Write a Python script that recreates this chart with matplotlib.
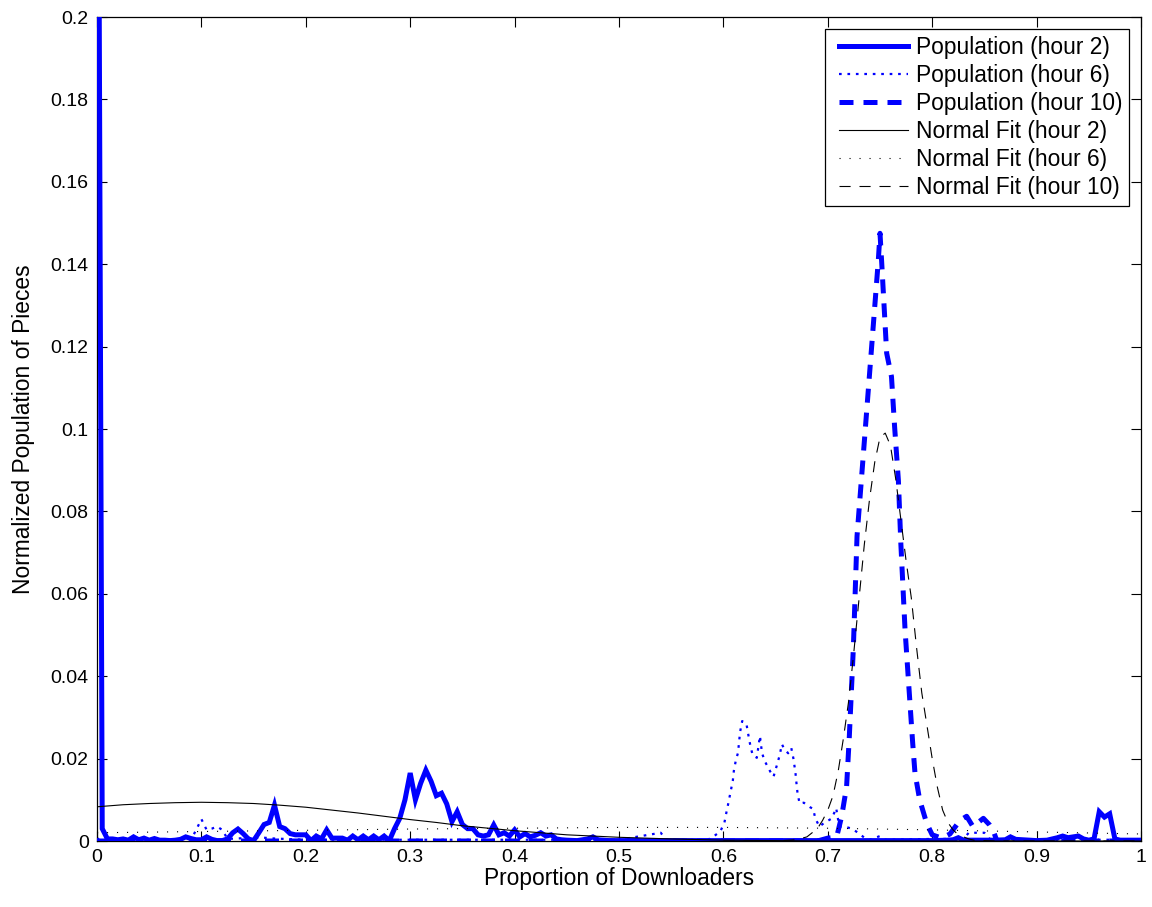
import numpy as np
import matplotlib
matplotlib.use("Agg")
import matplotlib.pyplot as plt
from matplotlib.legend_handler import HandlerLine2D

plt.rcParams['font.family'] = ['Liberation Sans', 'DejaVu Sans']

# ---------------- data ----------------
h2_x = [0.000, 0.005, 0.010, 0.015, 0.020, 0.025, 0.030, 0.035, 0.040, 0.045,
        0.050, 0.055, 0.060, 0.065, 0.070, 0.075, 0.080, 0.085, 0.090, 0.095,
        0.100, 0.105, 0.110, 0.115, 0.120, 0.125, 0.130, 0.135, 0.140, 0.145,
        0.150, 0.155, 0.160, 0.165, 0.170, 0.175, 0.180, 0.185, 0.190, 0.195,
        0.200, 0.205, 0.210, 0.215, 0.220, 0.225, 0.230, 0.235, 0.240, 0.245,
        0.250, 0.255, 0.260, 0.265, 0.270, 0.275, 0.280, 0.285, 0.290, 0.295,
        0.300, 0.305, 0.310, 0.315, 0.320, 0.325, 0.330, 0.335, 0.340, 0.345,
        0.350, 0.355, 0.360, 0.365, 0.370, 0.375, 0.380, 0.385, 0.390, 0.395,
        0.400, 0.405, 0.410, 0.415, 0.420, 0.425, 0.430, 0.435, 0.440, 0.445,
        0.450, 0.460, 0.470, 0.475, 0.480, 0.490, 0.520, 0.560, 0.600, 0.650,
        0.700, 0.750, 0.800, 0.815, 0.820, 0.825, 0.830, 0.860, 0.870, 0.875,
        0.880, 0.900, 0.910, 0.920, 0.925, 0.930, 0.935, 0.940, 0.945, 0.950,
        0.955, 0.960, 0.965, 0.970, 0.975, 0.980, 1.000]
h2_y = [0.3500, 0.0030, 0.0005, 0.0005, 0.0003, 0.0005, 0.0002, 0.0010, 0.0003, 0.0007,
        0.0002, 0.0006, 0.0002, 0.0002, 0.0001, 0.0002, 0.0004, 0.0010, 0.0006, 0.0003,
        0.0003, 0.0010, 0.0004, 0.0001, 0.0001, 0.0005, 0.0020, 0.0029, 0.0018, 0.0005,
        0.0001, 0.0020, 0.0040, 0.0045, 0.0087, 0.0035, 0.0030, 0.0018, 0.0015, 0.0015,
        0.0015, 0.0001, 0.0012, 0.0005, 0.0027, 0.0007, 0.0007, 0.0007, 0.0002, 0.0012,
        0.0003, 0.0012, 0.0003, 0.0012, 0.0003, 0.0012, 0.0001, 0.0030, 0.0055, 0.0100,
        0.0165, 0.0100, 0.0140, 0.0172, 0.0145, 0.0110, 0.0116, 0.0090, 0.0047, 0.0071,
        0.0040, 0.0030, 0.0030, 0.0015, 0.0012, 0.0015, 0.0039, 0.0015, 0.0020, 0.0012,
        0.0027, 0.0010, 0.0018, 0.0010, 0.0014, 0.0020, 0.0012, 0.0015, 0.0005, 0.0003,
        0.0002, 0.0001, 0.0005, 0.0010, 0.0003, 0.0001, 0.0001, 0.0001, 0.0001, 0.0001,
        0.0001, 0.0001, 0.0001, 0.0002, 0.0003, 0.0008, 0.0002, 0.0002, 0.0003, 0.0010,
        0.0004, 0.0001, 0.0002, 0.0008, 0.0012, 0.0008, 0.0010, 0.0012, 0.0005, 0.0002,
        0.0005, 0.0071, 0.0058, 0.0066, 0.0005, 0.0002, 0.0002]

h6_x = [0.000, 0.005, 0.020, 0.040, 0.060, 0.080, 0.090, 0.095, 0.100, 0.105,
        0.110, 0.115, 0.120, 0.125, 0.150, 0.160, 0.170, 0.200, 0.300, 0.400,
        0.500, 0.540, 0.545, 0.585, 0.590, 0.597, 0.601, 0.603, 0.605, 0.607,
        0.609, 0.610, 0.612, 0.614, 0.615, 0.616, 0.618, 0.622, 0.624, 0.626,
        0.628, 0.632, 0.635, 0.637, 0.640, 0.645, 0.648, 0.651, 0.654, 0.656,
        0.658, 0.662, 0.665, 0.667, 0.669, 0.670, 0.671, 0.673, 0.677, 0.683,
        0.686, 0.688, 0.692, 0.696, 0.704, 0.708, 0.711, 0.716, 0.723, 0.729,
        0.735, 0.740, 0.750, 0.755, 0.800, 0.830, 0.835, 0.850, 0.855, 0.900,
        1.000]
h6_y = [0.0003, 0.0010, 0.0003, 0.0004, 0.0003, 0.0004, 0.0003, 0.0027, 0.0053, 0.0027,
        0.0030, 0.0035, 0.0027, 0.0005, 0.0008, 0.0008, 0.0006, 0.0003, 0.0003, 0.0003,
        0.0003, 0.0020, 0.0003, 0.0003, 0.0010, 0.0023, 0.0045, 0.0071, 0.0095, 0.0121,
        0.0146, 0.0170, 0.0197, 0.0214, 0.0240, 0.0265, 0.0291, 0.0285, 0.0256, 0.0229,
        0.0209, 0.0202, 0.0255, 0.0213, 0.0192, 0.0168, 0.0156, 0.0182, 0.0209, 0.0235,
        0.0225, 0.0213, 0.0226, 0.0201, 0.0166, 0.0140, 0.0116, 0.0091, 0.0093, 0.0082,
        0.0078, 0.0055, 0.0035, 0.0043, 0.0055, 0.0080, 0.0035, 0.0035, 0.0030, 0.0020,
        0.0008, 0.0003, 0.0012, 0.0003, 0.0005, 0.0005, 0.0020, 0.0020, 0.0005, 0.0003,
        0.0003]

h10_x = [0.000, 0.690, 0.700, 0.7085, 0.7133, 0.718, 0.7206, 0.7245, 0.728, 0.7484,
         0.750, 0.7516, 0.7564, 0.761, 0.764, 0.7676, 0.770, 0.774, 0.7787, 0.7813,
         0.7835, 0.788, 0.7947, 0.800, 0.809, 0.817, 0.8266, 0.833, 0.839, 0.849,
         0.855, 0.8585, 0.862, 1.000]
h10_y = [0.0000, 0.0000, 0.0007, 0.0010, 0.0060, 0.0132, 0.0253, 0.0470, 0.0740, 0.1410,
         0.1475, 0.1405, 0.1184, 0.1127, 0.1005, 0.0876, 0.0720, 0.0512, 0.0335, 0.0238,
         0.0165, 0.0100, 0.0043, 0.0015, 0.0007, 0.0017, 0.0050, 0.0060, 0.0035, 0.0055,
         0.0039, 0.0025, 0.0000, 0.0000]

fit2_x = [0.000, 0.025, 0.050, 0.075, 0.100, 0.125, 0.150, 0.175, 0.200, 0.225,
          0.250, 0.275, 0.300, 0.325, 0.350, 0.375, 0.400, 0.425, 0.450, 0.475,
          0.500, 0.550, 0.600, 0.650, 0.700, 0.800, 0.900, 1.000]
fit2_y = [0.0083, 0.0088, 0.0091, 0.0093, 0.0094, 0.0093, 0.0091, 0.0087, 0.0082, 0.0075,
          0.0068, 0.0060, 0.0052, 0.0045, 0.0037, 0.0031, 0.0025, 0.0020, 0.0015, 0.0012,
          0.0009, 0.0005, 0.0002, 0.0001, 0.0000, 0.0000, 0.0000, 0.0000]

fit6_x = [0.0, 0.1, 0.2, 0.3, 0.4, 0.5, 0.6, 0.7, 0.8, 0.9, 1.0]
fit6_y = [0.0020, 0.0023, 0.0026, 0.0029, 0.0031, 0.0033, 0.0033, 0.0031, 0.0027, 0.0022, 0.0017]

fit10_x = [0.600, 0.650, 0.670, 0.680, 0.685, 0.690, 0.695, 0.700, 0.705, 0.710,
           0.715, 0.720, 0.725, 0.730, 0.735, 0.740, 0.745, 0.750, 0.755, 0.760,
           0.765, 0.770, 0.775, 0.780, 0.785, 0.790, 0.795, 0.800, 0.805, 0.810,
           0.815, 0.820, 0.825, 0.830, 0.835, 0.840, 0.860, 0.900, 1.000]
fit10_y = [0.0000, 0.0000, 0.0003, 0.0010, 0.0020, 0.0030, 0.0050, 0.0075, 0.0110, 0.0170,
           0.0250, 0.0340, 0.0460, 0.0590, 0.0720, 0.0830, 0.0920, 0.0980, 0.0990, 0.0960,
           0.0880, 0.0780, 0.0680, 0.0590, 0.0470, 0.0360, 0.0280, 0.0200, 0.0130, 0.0075,
           0.0045, 0.0027, 0.0015, 0.0010, 0.0005, 0.0002, 0.0000, 0.0000, 0.0000]

labels = ['Population (hour 2)', 'Population (hour 6)', 'Population (hour 10)',
          'Normal Fit (hour 2)', 'Normal Fit (hour 6)', 'Normal Fit (hour 10)']
xticks = [0, 0.1, 0.2, 0.3, 0.4, 0.5, 0.6, 0.7, 0.8, 0.9, 1]
xticklabels = ['0', '0.1', '0.2', '0.3', '0.4', '0.5', '0.6', '0.7', '0.8', '0.9', '1']
yticks = [0, 0.02, 0.04, 0.06, 0.08, 0.1, 0.12, 0.14, 0.16, 0.18, 0.2]
yticklabels = ['0', '0.02', '0.04', '0.06', '0.08', '0.1', '0.12', '0.14', '0.16', '0.18', '0.2']


class GapLineHandler(HandlerLine2D):
    """Legend line handler leaving a small gap on the left of the sample."""
    def get_xdata(self, legend, xdescent, ydescent, width, height, fontsize):
        gap = 0.31 * fontsize
        xdata = np.array([-xdescent + gap, -xdescent + width])
        return xdata, xdata


# ---------------- figure ----------------
fig = plt.figure(figsize=(11.52, 9.07), dpi=100)
ax = fig.add_axes([97/1152, 1 - 841/907, (1141 - 97)/1152, (841 - 17)/907])

blue = '#0000ff'
ax.plot(h2_x, h2_y, color=blue, lw=3.6, ls='-', label=labels[0], solid_joinstyle='miter', zorder=4)
ax.plot(h6_x, h6_y, color=blue, lw=1.6, ls=(0, (1.2, 2.6)), label=labels[1], zorder=3)
ax.plot(h10_x, h10_y, color=blue, lw=3.6, ls=(0, (2.8, 2.0)), label=labels[2], zorder=3)
ax.plot(fit2_x, fit2_y, color='black', lw=0.8, ls='-', label=labels[3], zorder=5)
ax.plot(fit6_x, fit6_y, color='black', lw=0.8, ls=(0, (1, 8)), label=labels[4], zorder=5)
ax.plot(fit10_x, fit10_y, color='black', lw=0.8, ls=(0, (10, 8)), label=labels[5], zorder=5)

ax.set_xlim(0, 1)
ax.set_ylim(0, 0.2)
ax.set_xticks(xticks)
ax.set_xticklabels(xticklabels)
ax.set_yticks(yticks)
ax.set_yticklabels(yticklabels)
ax.tick_params(direction='in', length=7, width=0.8, top=True, right=True,
               labelsize=14, pad=6, colors='black')
for s in ax.spines.values():
    s.set_linewidth(0.9)
    s.set_color('black')

ax.set_xlabel('Proportion of Downloaders', fontsize=16.4, labelpad=0.5)
ax.set_ylabel('Normalized Population of Pieces', fontsize=16.4, labelpad=11)

leg = ax.legend(loc='upper right', fontsize=16.4, frameon=True, fancybox=False,
                edgecolor='black', framealpha=1, handlelength=3.33, handletextpad=0.35,
                labelspacing=0.225, borderpad=0.3, borderaxespad=0.52,
                handler_map={plt.Line2D: GapLineHandler()})
leg.get_frame().set_linewidth(0.9)

fig.savefig('out.png', dpi=100)
